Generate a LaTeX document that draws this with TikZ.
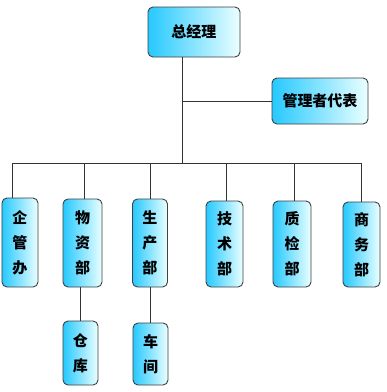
\documentclass[tikz,border=0pt]{standalone}
\usepackage{fontspec}
\newfontfamily\cjk{Noto Sans CJK SC}
\begin{document}
\begin{tikzpicture}[x=1pt,y=-1pt,
  box/.style={draw=black!75, line width=0.9pt, rounded corners=5pt,
    left color=cyan!75!blue!85!white, right color=cyan!8!white,
    inner sep=0pt, align=center, text=black,
    font=\cjk\bfseries\fontsize{15}{25}\selectfont},
  link/.style={draw=black!80, line width=0.9pt}]
\useasboundingbox[fill=white] (0,0) rectangle (387,392);
\node[box, minimum width=92, minimum height=50] (gm) at (194,32) {总经理};
\node[box, minimum width=96, minimum height=46] (rep) at (320,101) {管理者代表};
\node[box, minimum width=36, minimum height=89] (qgb) at (20,242.5) {企\\管\\办};
\node[box, minimum width=39, minimum height=88] (wzb) at (82.5,243) {物\\资\\部};
\node[box, minimum width=35, minimum height=88] (scb) at (150,243) {生\\产\\部};
\node[box, minimum width=37, minimum height=86] (jsb) at (224.5,244) {技\\术\\部};
\node[box, minimum width=38, minimum height=86] (zjb) at (292,244) {质\\检\\部};
\node[box, minimum width=37, minimum height=85] (swb) at (361.5,244.5) {商\\务\\部};
\node[box, minimum width=35, minimum height=64] (ck) at (80.5,353) {仓\\库};
\node[box, minimum width=35, minimum height=62] (cj) at (150.5,354) {车\\间};
\coordinate (bus) at (182,163);
\coordinate (top) at (gm.south -| bus);
\path[link] (top) -- (bus);
\path[link] (rep.west) -- (rep.west -| bus);
\path[link] ([xshift=-8]qgb.north) |- (bus);
\path[link] (bus) -| (swb.north);
\path[link] ([xshift=1.5]wzb.north) -- ([xshift=1.5]wzb.north |- bus);
\path[link] (scb.north) -- (scb.north |- bus);
\path[link] ([xshift=1.5]jsb.north) -- ([xshift=1.5]jsb.north |- bus);
\path[link] ([xshift=2]zjb.north) -- ([xshift=2]zjb.north |- bus);
\path[link] (ck.north) -- (ck.north |- wzb.south);
\path[link] (cj.north) -- (cj.north |- scb.south);
\end{tikzpicture}
\end{document}
